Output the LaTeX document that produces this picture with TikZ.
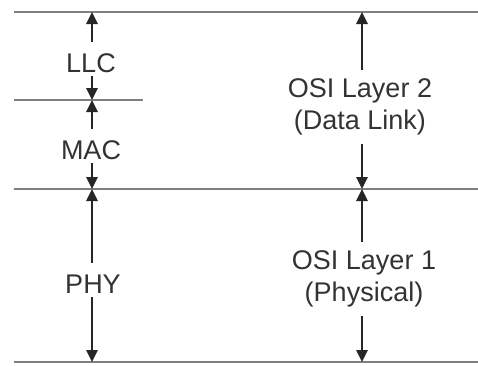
\documentclass[tikz,border=0pt]{standalone}
\usepackage{fontspec}
\setmainfont{Liberation Sans}
\usetikzlibrary{arrows.meta, positioning}

\begin{document}
\begin{tikzpicture}[x=1pt, y=-1pt,
    layerline/.style={black!50, line width=1.6pt},
    sizearrow/.style={-{Triangle[length=12pt, width=11pt]}, line width=2.6pt, black!85},
    sublayer/.style={font=\fontsize{27}{32}\selectfont, text=black!80,
      text height=28pt, text depth=2pt, inner ysep=2pt},
    osilayer/.style={font=\fontsize{27}{32}\selectfont, text=black!80,
      align=center, inner ysep=9pt}]
  \useasboundingbox (0,0) rectangle (478,365);

  % layer boundaries
  \draw[layerline] (14,12) -- (478,12);
  \draw[layerline] (14,100) -- (143,100);
  \draw[layerline] (14,189) -- (478,189);
  \draw[layerline] (14,362) -- (478,362);

  % ends of the arrows on the boundaries
  \coordinate (llcTop) at (92,12);
  \coordinate (llcBot) at (92,100);
  \coordinate (macTop) at (92,100);
  \coordinate (macBot) at (92,189);
  \coordinate (phyTop) at (92,189);
  \coordinate (phyBot) at (92,362);
  \coordinate (twoTop) at (362,12);
  \coordinate (twoBot) at (362,189);
  \coordinate (oneTop) at (362,189);
  \coordinate (oneBot) at (362,362);

  % IEEE 802 sublayers
  \node[sublayer, anchor=base] (llc) at (91,72) {LLC};
  \node[sublayer, anchor=base] (mac) at (91,159) {MAC};
  \node[sublayer, anchor=base] (phy) at (93,293) {PHY};

  % OSI layers
  \node[osilayer] (layerTwo) at (360,107) {OSI Layer 2\\(Data Link)};
  \node[osilayer] (layerOne) at (364,279) {OSI Layer 1\\(Physical)};

  % extents
  \draw[sizearrow] (llc.north -| llcTop) -- (llcTop);
  \draw[sizearrow] (llc.south -| llcBot) -- (llcBot);
  \draw[sizearrow] (mac.north -| macTop) -- (macTop);
  \draw[sizearrow] (mac.south -| macBot) -- (macBot);
  \draw[sizearrow] (phy.north -| phyTop) -- (phyTop);
  \draw[sizearrow] (phy.south -| phyBot) -- (phyBot);
  \draw[sizearrow] (layerTwo.north -| twoTop) -- (twoTop);
  \draw[sizearrow] (layerTwo.south -| twoBot) -- (twoBot);
  \draw[sizearrow] (layerOne.north -| oneTop) -- (oneTop);
  \draw[sizearrow] (layerOne.south -| oneBot) -- (oneBot);
\end{tikzpicture}
\end{document}
